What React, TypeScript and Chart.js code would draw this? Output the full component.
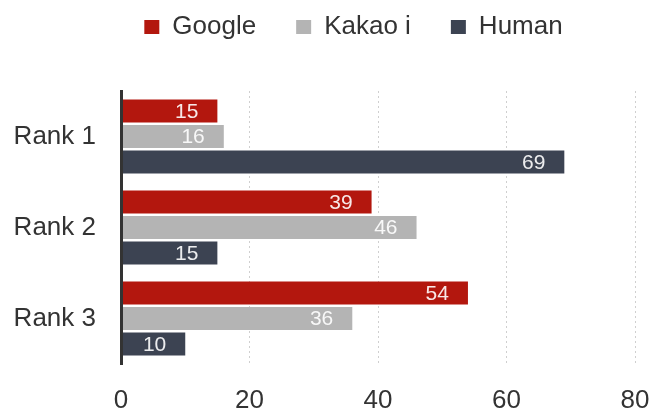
import React, { useEffect, useRef } from 'react';
import { Chart, registerables } from 'chart.js';

Chart.register(...registerables);

const categories = ['Rank 1', 'Rank 2', 'Rank 3'];
const seriesNames = ['Google', 'Kakao i', 'Human'];
const googleValues = [15, 39, 54];
const kakaoValues = [16, 46, 36];
const humanValues = [69, 15, 10];
const xTickValues = [0, 20, 40, 60, 80];
const seriesColors = ['#b3170e', '#b4b4b4', '#3c4352'];

const FONT = '"Liberation Sans", Arial, Helvetica, sans-serif';

const legendTweak = {
  id: 'legendTweak',
  afterInit(chart: any) {
    const lg = chart.legend;
    if (!lg) return;
    const orig = lg.fit;
    lg.fit = function () {
      orig.call(this);
      this.height = 91;
    };
  },
  afterLayout(chart: any) {
    const lg = chart.legend;
    if (!lg) return;
    const pad = lg.options.labels.padding;
    lg.top = 14 - pad;
    lg.left += 36;
    lg.right += 36;
  },
};

const valueLabels = {
  id: 'valueLabels',
  afterDatasetsDraw(chart: any) {
    const ctx = chart.ctx;
    ctx.save();
    ctx.font = `21px ${FONT}`;
    ctx.fillStyle = 'rgba(255,255,255,0.9)';
    ctx.textAlign = 'right';
    ctx.textBaseline = 'middle';
    chart.data.datasets.forEach((ds: any, di: number) => {
      const meta = chart.getDatasetMeta(di);
      meta.data.forEach((el: any, i: number) => {
        const { x, y } = el.getProps(['x', 'y'], true);
        ctx.fillText(String(ds.data[i]), x - 19, y + 1);
      });
    });
    ctx.restore();
  },
};

export default function App() {
  const canvasRef = useRef<HTMLCanvasElement | null>(null);

  useEffect(() => {
    if (!canvasRef.current) return;
    const seriesValues = [googleValues, kakaoValues, humanValues];
    const chart = new Chart(canvasRef.current, {
      type: 'bar',
      data: {
        labels: categories,
        datasets: seriesNames.map((name, i) => ({
          label: name,
          data: seriesValues[i],
          backgroundColor: seriesColors[i],
          borderWidth: 0,
          categoryPercentage: 0.84,
          barPercentage: 0.9,
        })),
      },
      options: {
        indexAxis: 'y',
        animation: false,
        responsive: false,
        devicePixelRatio: 1,
        layout: { padding: { left: 0, right: 16, top: 0, bottom: 0 } },
        plugins: {
          legend: {
            display: true,
            position: 'top',
            labels: {
              boxWidth: 15,
              boxHeight: 14,
              padding: 40,
              color: '#333333',
              font: { family: FONT, size: 26 },
            },
          },
          tooltip: { enabled: false },
        },
        scales: {
          x: {
            type: 'linear',
            min: xTickValues[0],
            max: xTickValues[xTickValues.length - 1],
            afterBuildTicks: (scale: any) => {
              scale.ticks = xTickValues.map((v) => ({ value: v }));
            },
            afterFit: (scale: any) => {
              scale.height = 50;
              scale.paddingLeft = 0;
              scale.paddingRight = 14;
            },
            ticks: {
              color: '#333333',
              font: { family: FONT, size: 26 },
              padding: 21,
              maxRotation: 0,
            },
            grid: {
              color: '#cfcfcf',
              lineWidth: 1,
              drawTicks: false,
            },
            border: { display: false, dash: [2, 3] },
          },
          y: {
            type: 'category',
            afterFit: (scale: any) => {
              scale.width = 121;
            },
            ticks: {
              color: '#333333',
              font: { family: FONT, size: 26 },
              padding: 25,
            },
            grid: { display: false, drawTicks: false },
            border: { display: true, color: '#333333', width: 3, z: 1 },
          },
        },
      },
      plugins: [legendTweak, valueLabels],
    } as any);
    return () => chart.destroy();
  }, []);

  return (
    <div style={{ position: 'fixed', left: 0, top: 0, width: 651, height: 414, background: '#ffffff' }}>
      <canvas ref={canvasRef} width={651} height={414} style={{ display: 'block' }} />
    </div>
  );
}
